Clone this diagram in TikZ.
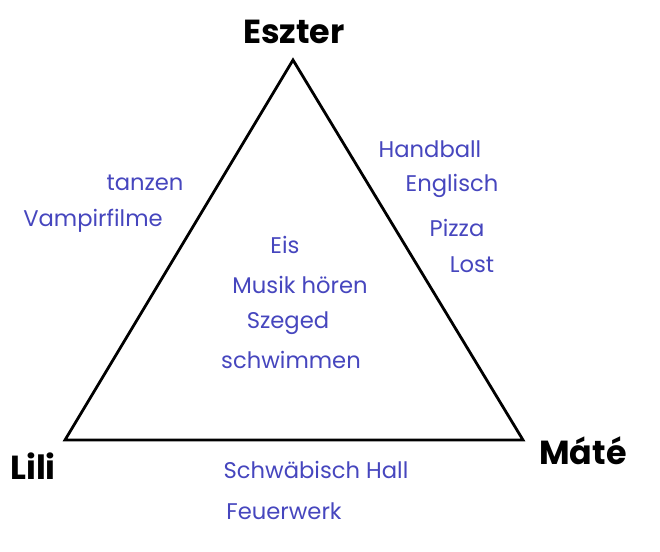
\documentclass[tikz,border=0pt]{standalone}
\usepackage{fontspec}
\setmainfont{Poppins}
\definecolor{labelblue}{HTML}{4646BE}
\begin{document}
\begin{tikzpicture}[x=0.75pt,y=-0.75pt,
  person/.style={font=\fontsize{25}{28}\selectfont\bfseries, text=black, inner sep=0pt},
  item/.style={font=\fontsize{17}{20}\selectfont, text=labelblue, inner sep=0pt},
  edge/.style={draw=black, line width=2.1pt, line join=miter}]
\useasboundingbox (0,0) rectangle (660,552);
\coordinate (E) at (293,60);
\coordinate (L) at (65,440);
\coordinate (M) at (523,440);
\draw[edge] (E) -- (L) -- (M) -- cycle;
\node[person] (eszter) at (294,32) {Eszter};
\node[person] (lili) at (33,466) {Lili};
\node[person] (mate) at (583,451) {Máté};
\node[item] (tanzen) at (145,183) {tanzen};
\node[item] (vampir) at (93,221) {Vampirfilme};
\node[item] (handball) at (430,149) {Handball};
\node[item] (englisch) at (452,186) {Englisch};
\node[item] (pizza) at (457,228) {Pizza};
\node[item] (lost) at (472,265) {Lost};
\node[item] (eis) at (285,245) {Eis};
\node[item] (musik) at (300,285) {Musik hören};
\node[item] (szeged) at (288,323) {Szeged};
\node[item] (schwimmen) at (291,360) {schwimmen};
\node[item] (hall) at (316,470) {Schwäbisch Hall};
\node[item] (feuer) at (284,511) {Feuerwerk};
\end{tikzpicture}
\end{document}
